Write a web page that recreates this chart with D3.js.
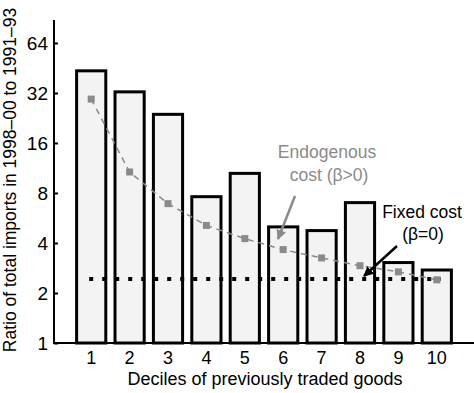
<!DOCTYPE html>
<html lang="en">
<head>
<meta charset="UTF-8">
<title>Ratio of total imports by decile</title>
<script src="https://d3js.org/d3.v7.min.js"></script>
<style>
  body { margin: 0; background: #fff; }
  text { font-family: "Liberation Sans", Arial, Helvetica, sans-serif; }
</style>
</head>
<body>
<div id="chart"></div>
<script>
  // data
  var deciles = [1, 2, 3, 4, 5, 6, 7, 8, 9, 10];
  var observed = [43.5, 32.5, 23.8, 7.6, 10.5, 5.0, 4.75, 7.0, 3.05, 2.75];
  var endogenous = [29.4, 10.7, 6.9, 5.1, 4.25, 3.65, 3.25, 2.92, 2.68, 2.4];
  var fixedCost = 2.43;
  var yTicks = [1, 2, 4, 8, 16, 32, 64];

  var W = 474, H = 393;
  var svg = d3.select("#chart").append("svg")
      .attr("width", W).attr("height", H);

  var x = d3.scaleBand()
      .domain(deciles)
      .range([72, 456])
      .paddingInner(0.24)
      .paddingOuter(0.12);

  var y = d3.scaleLog().base(2)
      .domain([1, 88])
      .range([343, 20]);

  var cx = function(d) { return x(d) + x.bandwidth() / 2; };

  // arrow heads
  var defs = svg.append("defs");
  [["headGray", "#8a8a8a"], ["headBlack", "#000"]].forEach(function(m) {
    defs.append("marker")
        .attr("id", m[0])
        .attr("viewBox", "0 0 10 10")
        .attr("refX", 9).attr("refY", 5)
        .attr("markerWidth", 4).attr("markerHeight", 4)
        .attr("orient", "auto")
      .append("path")
        .attr("d", "M0,0L10,5L0,10z")
        .attr("fill", m[1]);
  });

  // bars
  svg.append("g").selectAll("rect")
    .data(observed)
    .join("rect")
      .attr("x", function(d, i) { return x(deciles[i]); })
      .attr("y", function(d) { return y(d); })
      .attr("width", x.bandwidth())
      .attr("height", function(d) { return y(1) - y(d); })
      .attr("fill", "#f3f3f3")
      .attr("stroke", "#000")
      .attr("stroke-width", 3);

  // fixed cost line (dotted)
  svg.append("line")
      .attr("x1", cx(1) - 2).attr("x2", cx(10) + 4)
      .attr("y1", y(fixedCost)).attr("y2", y(fixedCost))
      .attr("stroke", "#000")
      .attr("stroke-width", 4)
      .attr("stroke-dasharray", "4,9");

  // endogenous cost model
  var line = d3.line()
      .x(function(d, i) { return cx(deciles[i]); })
      .y(function(d) { return y(d); });

  svg.append("path")
      .datum(endogenous)
      .attr("d", line)
      .attr("fill", "none")
      .attr("stroke", "#8a8a8a")
      .attr("stroke-width", 1.5)
      .attr("stroke-dasharray", "6,5");

  svg.append("g").selectAll("rect")
    .data(endogenous)
    .join("rect")
      .attr("x", function(d, i) { return cx(deciles[i]) - 3.5; })
      .attr("y", function(d) { return y(d) - 3.5; })
      .attr("width", 7).attr("height", 7)
      .attr("fill", "#8a8a8a");

  // axes
  var yAxis = svg.append("g")
      .attr("transform", "translate(54,0)")
      .call(d3.axisLeft(y).tickValues(yTicks).tickFormat(d3.format("d"))
        .tickSizeInner(-4).tickSizeOuter(0).tickPadding(6));
  yAxis.select(".domain").attr("stroke-width", 2)
      .attr("d", "M0," + y.range()[1] + "V" + (y(1) + 1));
  yAxis.selectAll(".tick line").attr("stroke-width", 2);
  yAxis.selectAll("text").attr("font-size", 19).attr("fill", "#000");

  var xAxis = svg.append("g")
      .attr("transform", "translate(0," + y(1) + ")")
      .call(d3.axisBottom(x).tickSize(0).tickPadding(8));
  xAxis.select(".domain").attr("stroke-width", 2)
      .attr("d", "M53,0H" + W);
  xAxis.selectAll("text").attr("font-size", 18).attr("fill", "#000");

  // axis titles
  svg.append("text")
      .attr("x", 265).attr("y", 385)
      .attr("text-anchor", "middle")
      .attr("font-size", 18)
      .text("Deciles of previously traded goods");

  svg.append("text")
      .attr("transform", "translate(16,180) rotate(-90)")
      .attr("text-anchor", "middle")
      .attr("font-size", 17.5)
      .text("Ratio of total imports in 1998\u201300 to 1991\u201393");

  // annotations
  var endo = svg.append("text")
      .attr("text-anchor", "middle")
      .attr("font-size", 17.5)
      .attr("fill", "#8a8a8a");
  endo.append("tspan").attr("x", 327).attr("y", 158).text("Endogenous");
  endo.append("tspan").attr("x", 329).attr("y", 181).text("cost (\u03b2>0)");

  svg.append("line")
      .attr("x1", 295).attr("y1", 196)
      .attr("x2", 278).attr("y2", 239)
      .attr("stroke", "#8a8a8a").attr("stroke-width", 2.5)
      .attr("marker-end", "url(#headGray)");

  var fixed = svg.append("text")
      .attr("text-anchor", "middle")
      .attr("font-size", 17.5)
      .attr("fill", "#000");
  fixed.append("tspan").attr("x", 422).attr("y", 218).text("Fixed cost");
  fixed.append("tspan").attr("x", 423).attr("y", 240).text("(\u03b2=0)");

  svg.append("line")
      .attr("x1", 397).attr("y1", 246)
      .attr("x2", 364).attr("y2", 276)
      .attr("stroke", "#000").attr("stroke-width", 2.5)
      .attr("marker-end", "url(#headBlack)");
</script>
</body>
</html>
